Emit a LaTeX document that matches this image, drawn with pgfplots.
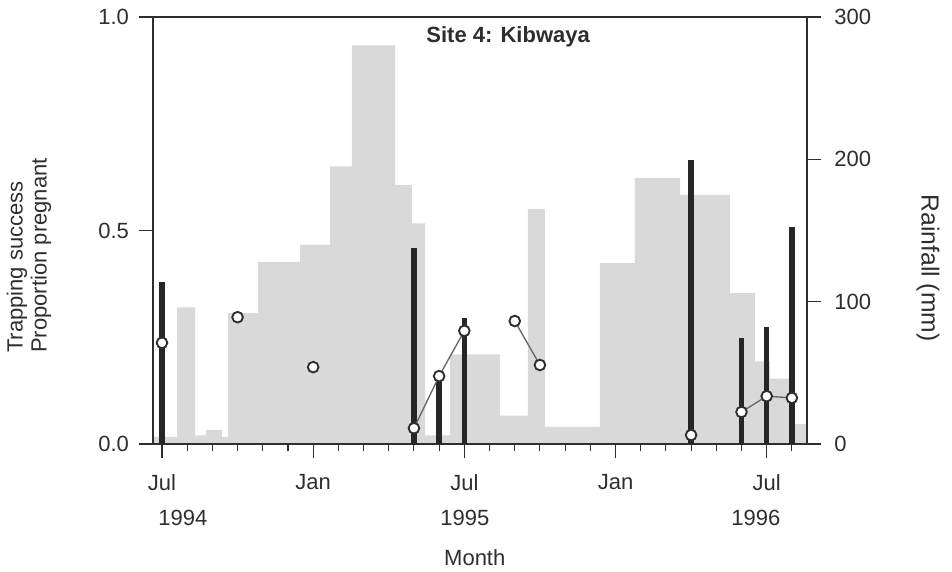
\documentclass[border=0pt]{standalone}
\usepackage{fontspec}
\setmainfont{Liberation Sans}
\usepackage{pgfplots}
\pgfplotsset{compat=1.18}

\definecolor{ink}{HTML}{2E2E2E}
\definecolor{rain}{HTML}{D9D9D9}
\definecolor{barcol}{HTML}{262626}

\pgfplotsset{
  site/.style={
    scale only axis, width=490.5pt, height=320.25pt,
    at={(0,0)}, anchor=south west,
    xmin=-0.357, xmax=25.6,
    font=\fontsize{16.5pt}{19pt}\selectfont,
    tick align=outside,
    major tick length=10.5pt, minor tick length=5.25pt,
    every tick/.style={ink, line width=0.8pt},
    axis line style={ink, line width=0.9pt},
    tick label style={text=ink},
    /pgf/number format/assume math mode=true,
  }
}

\begin{document}
\begin{tikzpicture}
% rainfall, right axis (mm)
\begin{axis}[site,
    ymin=0, ymax=300,
    axis x line=none, axis y line*=right,
    ytick={0,100,200,300}, ytick pos=right,
    yticklabel style={xshift=6.5pt}]
  \addplot[const plot, fill=rain, draw=none] coordinates {
    (-0.357,5) (0.60,96) (1.31,6) (1.75,10) (2.38,5) (2.62,92)
    (3.81,128) (5.48,140) (6.67,195) (7.54,280) (9.25,182) (9.92,155)
    (10.44,6) (11.43,63) (13.41,20) (14.52,165) (15.20,12) (17.38,127)
    (18.77,187) (20.56,175) (22.54,106) (23.53,58) (24.13,46) (24.92,14)
    (25.6,14)
  } \closedcycle;
\end{axis}

% trapping success and proportion pregnant, left axis
\begin{axis}[site,
    ymin=0, ymax=1,
    xtick={0,6,12,18,24}, xticklabels={Jul,Jan,Jul,Jan,Jul},
    minor xtick={1,...,25}, xtick pos=lower,
    xticklabel style={yshift=-9pt},
    ytick={0,0.5,1}, yticklabels={0.0,0.5,1.0}, ytick pos=left,
    yticklabel style={xshift=-4pt},
    clip=false, unbounded coords=jump]
  \addplot[ycomb, color=barcol, line width=4.2pt, mark=none] coordinates {
    (0,0.379) (10,0.459) (11,0.157) (12,0.295)
    (21,0.665) (23,0.248) (24,0.274) (25,0.508)
  };
  \addplot[color=black!60, line width=1pt, mark=*, mark size=4pt,
      mark options={fill=white, draw=ink, line width=1.4pt}] coordinates {
    (0,0.237) (1,nan) (3,0.297) (4,nan) (6,0.180) (7,nan)
    (10,0.037) (11,0.159) (12,0.265) (13,nan)
    (14,0.288) (15,0.185) (16,nan)
    (21,0.021) (22,nan) (23,0.075) (24,0.112) (25,0.108)
  };

  \node[text=ink] at (axis cs:0.83,0) [yshift=-55.5pt] {1994};
  \node[text=ink] at (axis cs:12.02,0) [yshift=-55.5pt] {1995};
  \node[text=ink] at (axis cs:23.57,0) [yshift=-55.5pt] {1996};
  \node[text=ink] at (axis description cs:0.492,-0.267) {Month};
  \node[text=ink, font=\fontsize{16.5pt}{19pt}\selectfont\bfseries]
    at (axis description cs:0.543,0.953) {Site 4: Kibwaya};
  \node[rotate=90, align=left, anchor=west, inner sep=0pt, text=ink,
      font=\fontsize{16.5pt}{18pt}\selectfont]
    at (axis description cs:-0.1896,0.213) {Trapping success\\Proportion pregnant};
  \node[rotate=-90, text=ink, font=\fontsize{18.5pt}{22pt}\selectfont]
    at (axis description cs:1.185,0.412) {Rainfall (mm)};
\end{axis}

\pgfresetboundingbox
\path[use as bounding box] (-114.75pt,-95.25pt) rectangle (599.25pt,333pt);
\end{tikzpicture}
\end{document}
